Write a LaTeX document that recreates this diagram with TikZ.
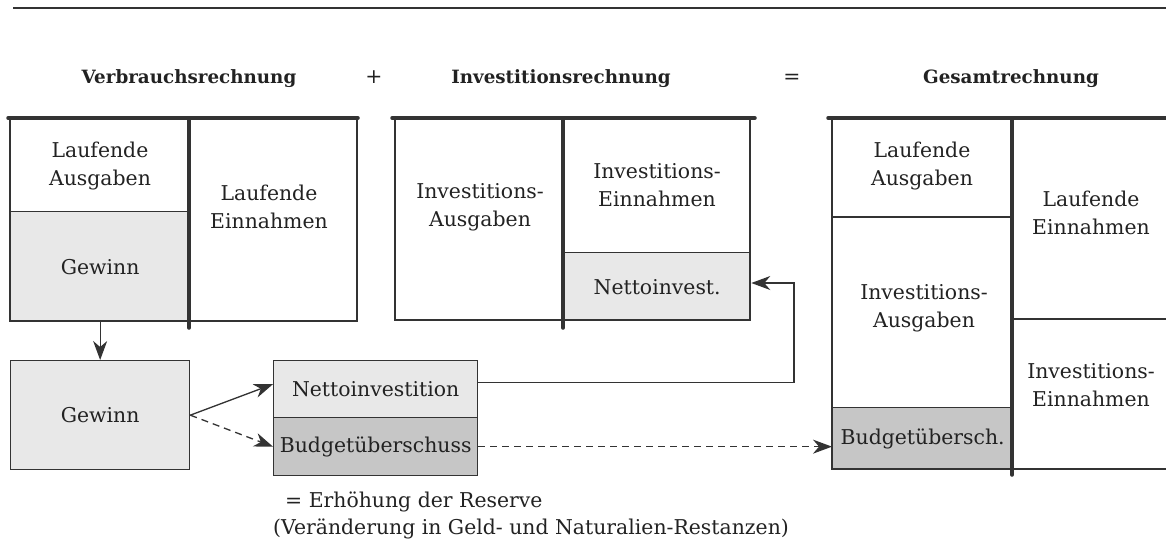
\documentclass[tikz,border=0pt]{standalone}
\usepackage{fontspec}
\setmainfont{DejaVu Serif}
\usetikzlibrary{arrows.meta}
\definecolor{ink}{HTML}{333333}
\definecolor{txt}{HTML}{222222}
\definecolor{lightfill}{HTML}{E8E8E8}
\definecolor{darkfill}{HTML}{C6C6C6}
\begin{document}
\begin{tikzpicture}[x=1pt,y=-1pt,
  rule/.style={draw=ink,line width=1.3pt},
  heavy/.style={draw=ink,line width=3.5pt,line cap=round},
  box/.style={draw=ink,line width=1.3pt,rectangle,inner sep=0pt,anchor=north west,text=txt,font=\fontsize{20.4}{28}\selectfont},
  lightbox/.style={box,fill=lightfill},
  darkbox/.style={box,fill=darkfill},
  lbl/.style={text=txt,font=\fontsize{20.4}{28}\selectfont,align=center,inner sep=0pt},
  plain/.style={text=txt,font=\fontsize{20.4}{28}\selectfont,inner sep=0pt},
  ttl/.style={text=txt,font=\bfseries\fontsize{18.3}{22}\selectfont,inner sep=0pt,anchor=base},
  conn/.style={draw=ink,line width=1.3pt,-{Stealth[length=19pt,width=14pt,inset=6pt]}},
  dashconn/.style={conn,dash pattern=on 7pt off 5pt},
]
\useasboundingbox (0,0) rectangle (1166,542);

% top rule
\draw[draw=ink,line width=2.2pt] (13,8) -- (1166,8);

% titles
\node[ttl] (t1) at (189,83) {Verbrauchsrechnung};
\node[plain,anchor=base] (plus) at (374,83) {+};
\node[ttl] (t2) at (561,83) {Investitionsrechnung};
\node[plain,anchor=base] (eq) at (792,83) {=};
\node[ttl] (t3) at (1011,83) {Gesamtrechnung};

% shaded boxes
\node[lightbox,minimum width=179pt,minimum height=110pt] (gew1) at (10,211) {Gewinn};
\node[lightbox,minimum width=187pt,minimum height=68pt] (ni) at (563,252) {Nettoinvest.};
\node[darkbox,minimum width=180pt,minimum height=62pt] (bu2) at (832,407) {Budgetübersch.};
\node[lightbox,minimum width=179pt,minimum height=109pt] (gew2) at (10,360) {Gewinn};
\node[lightbox,minimum width=204pt,minimum height=57pt] (nt) at (273,360) {Nettoinvestition};
\node[darkbox,minimum width=204pt,minimum height=58pt] (bs) at (273,417) {Budgetüberschuss};

% left account
\draw[rule] (10,118) -- (10,321) -- (357,321) -- (357,118);
\draw[heavy] (8,118) -- (358,118);
\draw[heavy] (189,118) -- (189,328);
\node[lbl] (la1) at (100,165.7) {Laufende\\Ausgaben};
\node[lbl] (le1) at (269,206.4) {Laufende\\Einnahmen};

% middle account
\draw[rule] (395,118) -- (395,320) -- (750,320) -- (750,118);
\draw[heavy] (392,118) -- (755,118);
\draw[heavy] (563,118) -- (563,328);
\node[lbl] (ia1) at (480,207) {Investitions-\\Ausgaben};
\node[lbl] (ie1) at (657,184.7) {Investitions-\\Einnahmen};

% right account
\draw[rule] (832,118) -- (832,469) -- (1166,469);
\draw[rule] (832,217) -- (1012,217);
\draw[rule] (1012,319) -- (1166,319);
\draw[heavy] (828,118) -- (1170,118);
\draw[heavy] (1012,118) -- (1012,475);
\node[lbl] (la2) at (922,165.7) {Laufende\\Ausgaben};
\node[lbl] (le2) at (1091,212.4) {Laufende\\Einnahmen};
\node[lbl] (ia2) at (924,308) {Investitions-\\Ausgaben};
\node[lbl] (ie2) at (1091,384.7) {Investitions-\\Einnahmen};

% connectors
\draw[conn] (gew1.south) -- (gew2.north);
\draw[conn] (gew2.east) -- ([yshift=5pt]nt.west);
\draw[dashconn] (gew2.east) -- (bs.west);
\coordinate (turn) at (794,283);
\draw[conn] ([yshift=6.5pt]nt.east) -| (turn) -- (turn -| ni.east);
\draw[dashconn] (bs.east) -- (bs.east -| bu2.west);

% note
\node[plain,anchor=base west] (n1) at (285,507) {= Erhöhung der Reserve};
\node[plain,anchor=base west] (n2) at (273,534) {(Veränderung in Geld- und Naturalien-Restanzen)};
\end{tikzpicture}
\end{document}
